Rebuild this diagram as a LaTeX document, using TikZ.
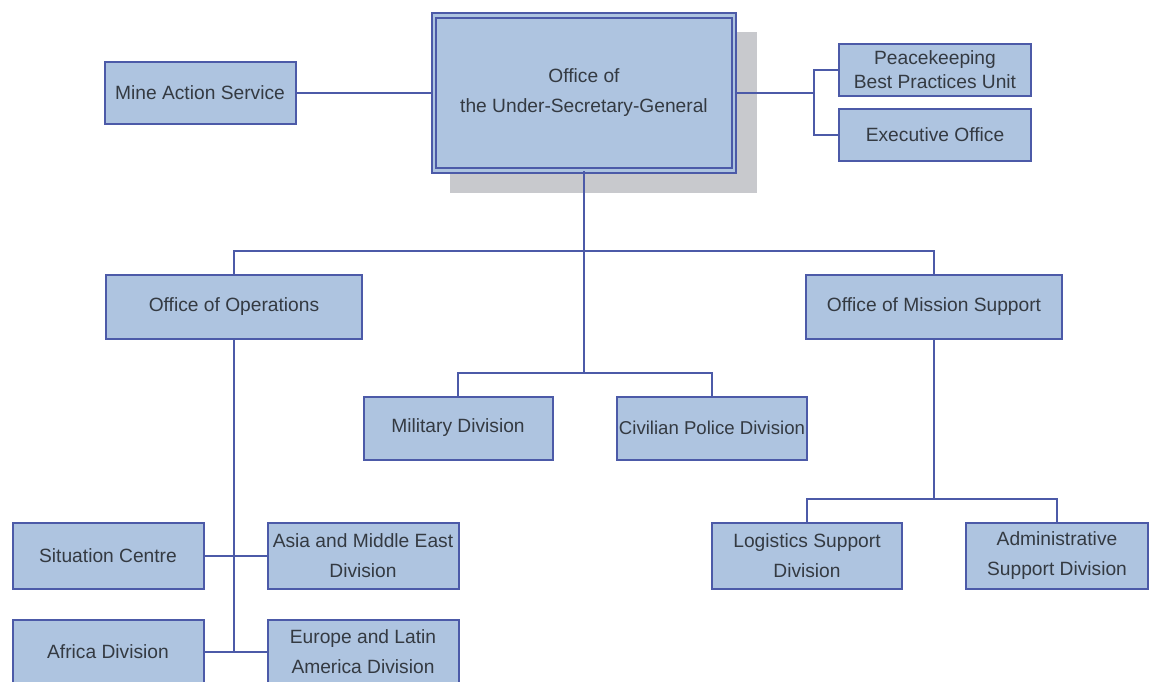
\documentclass[tikz,border=0pt]{standalone}
\usepackage{fontspec}
\setmainfont{Liberation Sans}
\definecolor{boxfill}{RGB}{174,196,224}
\definecolor{boxline}{RGB}{76,90,168}
\definecolor{txt}{RGB}{52,58,66}
\definecolor{shadowgray}{RGB}{200,201,205}
\begin{document}
\begin{tikzpicture}[x=1pt,y=-1pt,
  unit/.style={draw=boxline, fill=boxfill, line width=2pt, text=txt,
    font=\fontsize{19.2}{30}\selectfont, align=center, inner sep=0pt},
  link/.style={draw=boxline, line width=2pt},
  shade box/.style={fill=shadowgray, draw=none}]
\useasboundingbox (0,0) rectangle (1149,681);
\clip (0,0) rectangle (1149,681);
% shadow of the main box
\fill[shade box] (450,32) rectangle (757,193);
% main box
\node[unit, double=boxfill, double distance=2.5pt, line width=1.8pt,
  minimum width=300pt, minimum height=155pt] (usg) at (584,93)
  {Office of\\the Under-Secretary-General};
\node[unit, minimum width=191pt, minimum height=62pt] (mas) at (200,93) {Mine Action Service};
\node[unit, font=\fontsize{19.2}{24}\selectfont, minimum width=192pt, minimum height=52pt] (pbpu) at (935,70) {Peacekeeping\\Best Practices Unit};
\node[unit, minimum width=192pt, minimum height=52pt] (exo) at (935,135) {Executive Office};
\node[unit, minimum width=256pt, minimum height=64pt] (oops) at (234,307) {Office of Operations};
\node[unit, minimum width=256pt, minimum height=64pt] (oms) at (934,307) {Office of Mission Support};
\node[unit, minimum width=189pt, minimum height=63pt] (mil) at (458,428) {Military Division};
\node[unit, font=\fontsize{18.6}{30}\selectfont, minimum width=190pt, minimum height=63pt] (civ) at (712,428) {Civilian Police Division};
\node[unit, minimum width=190pt, minimum height=66pt] (log) at (807,556) {Logistics Support\\Division};
\node[unit, minimum width=182pt, minimum height=66pt] (adm) at (1057,556) {Administrative\\Support Division};
\node[unit, minimum width=191pt, minimum height=66pt] (sit) at (108,556) {Situation Centre};
\node[unit, minimum width=191pt, minimum height=66pt] (asia) at (363,556) {Asia and Middle East\\Division};
\node[unit, minimum width=191pt, minimum height=64pt] (afr) at (108,652) {Africa Division};
\node[unit, minimum width=191pt, minimum height=64pt] (eur) at (363,652) {Europe and Latin\\America Division};
% junction points
\coordinate (rb) at (814,93);
\coordinate (hub) at (584,251);
\coordinate (mhub) at (584,373);
\coordinate (shub) at (934,499);
% connectors
\draw[link] (mas.east) -- (usg.west);
\draw[link] (usg.east) -- (rb);
\draw[link] (pbpu.west) -| (rb) |- (exo.west);
\draw[link] (usg.south) -- (mhub);
\draw[link] (oops.north) |- (hub) -| (oms.north);
\draw[link] (mil.north) |- (mhub) -| (civ.north);
\draw[link] (oms.south) -- (shub);
\draw[link] (log.north) |- (shub) -| (adm.north);
\draw[link] (oops.south) -- (oops.south |- afr.east);
\draw[link] (sit.east) -- (asia.west);
\draw[link] (afr.east) -- (eur.west);
\end{tikzpicture}
\end{document}
